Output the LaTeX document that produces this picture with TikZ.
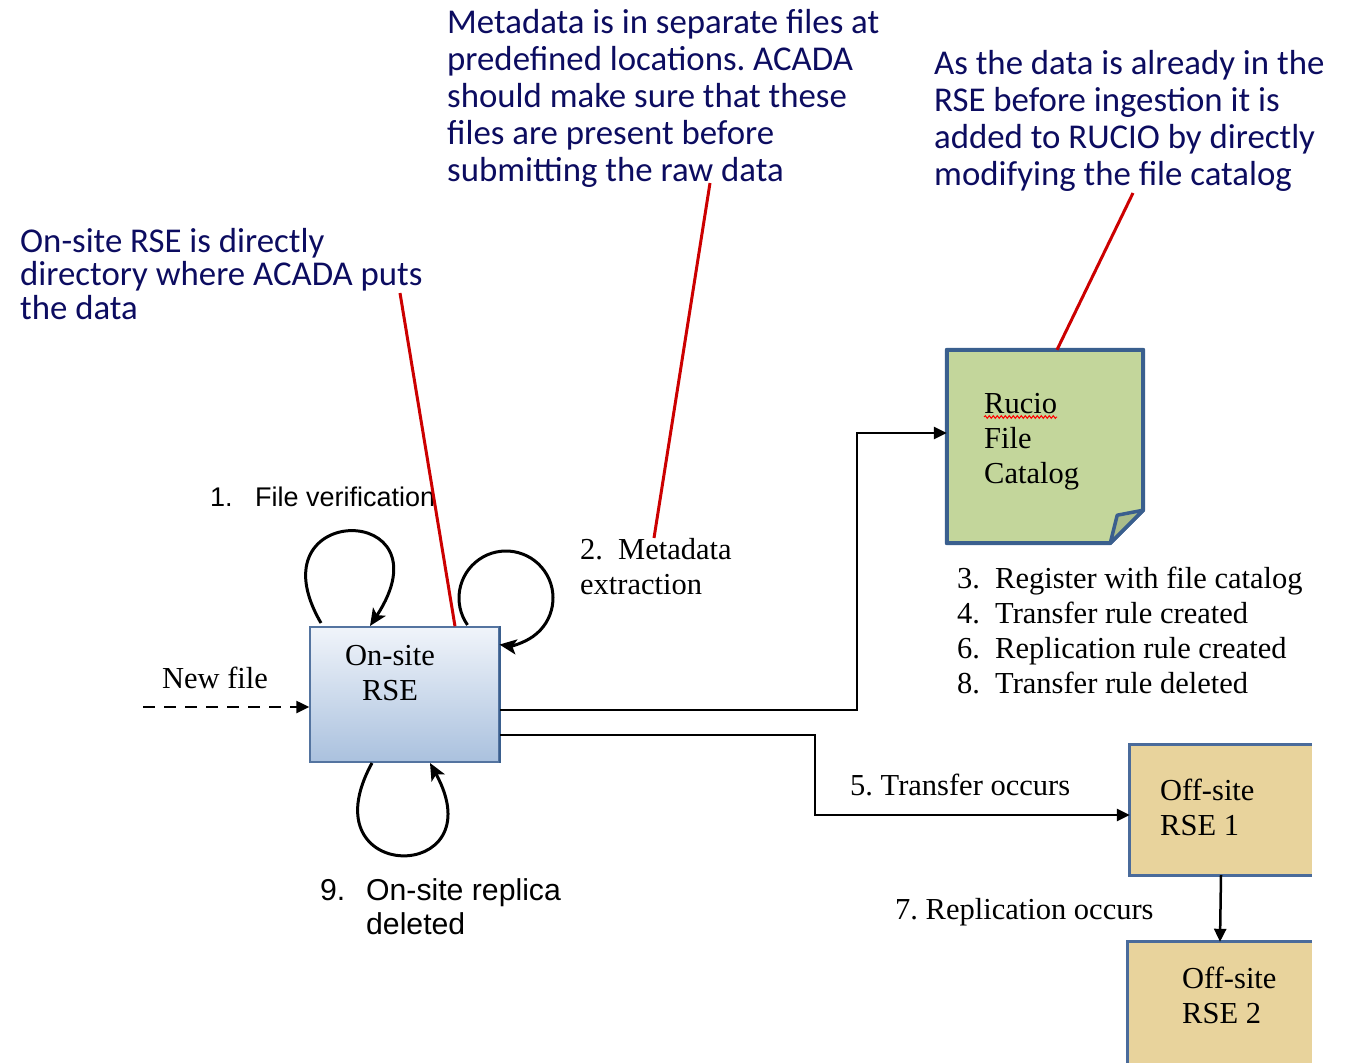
\documentclass[tikz,border=0pt]{standalone}
\usepackage{fontspec}
\setmainfont{Liberation Serif}
\newfontfamily\calfont{Carlito}
\newfontfamily\arialfont{Liberation Sans}
\usetikzlibrary{arrows.meta,decorations.pathmorphing,calc}
\frenchspacing
\definecolor{navy}{RGB}{12,12,96}
\definecolor{redline}{RGB}{204,0,0}
\definecolor{rseborder}{RGB}{84,116,160}
\definecolor{rsetop}{RGB}{240,244,250}
\definecolor{rsebot}{RGB}{170,193,222}
\definecolor{catfill}{RGB}{195,214,155}
\definecolor{catfold}{RGB}{170,189,138}
\definecolor{catborder}{RGB}{58,95,142}
\definecolor{offfill}{RGB}{232,211,156}
\definecolor{offborder}{RGB}{74,107,155}
\tikzset{
  note/.style={font=\calfont\fontsize{34.8}{37}\selectfont, text=navy, align=left, anchor=north west, inner sep=0pt},
  tnote/.style={font=\fontsize{30.5}{35}\selectfont, align=left, inner sep=0pt},
  anote/.style={font=\arialfont\fontsize{27}{34}\selectfont, align=left, inner sep=0pt},
  pointer/.style={draw=redline, line width=3pt},
  conn/.style={draw=black, line width=2.5pt, -{Triangle[length=13pt,width=12pt]}},
  loop/.style={draw=black, line width=3pt, -{Stealth[length=17pt,width=15pt,inset=4pt]}},
}
\begin{document}
\begin{tikzpicture}[x=1pt,y=-1pt]
\useasboundingbox (0,0) rectangle (1345,1063);

% ---- On-site RSE ----
\node (rse) [minimum width=189pt, minimum height=135pt, inner sep=0pt,
  top color=rsetop, bottom color=rsebot, draw=rseborder, line width=1.5pt] at (404.5,694.5) {};
\draw[catborder, line width=2pt] (rse.north east) -- (rse.south east);
\node (rsetxt) [tnote, align=center] at (390,673) {On-site\\RSE};

% ---- Rucio file catalog ----
\node (cat) [minimum width=196pt, minimum height=193pt, inner sep=0pt] at (1045,446.5) {};
\draw[fill=catfill, draw=catborder, line width=4pt, line join=round]
  (cat.north west) -- (cat.north east) -- ([yshift=33pt]cat.south east) -- ([xshift=-33pt]cat.south east) -- (cat.south west) -- cycle;
\draw[fill=catfold, draw=catborder, line width=3.5pt, line join=round]
  ([xshift=-33pt]cat.south east) -- ([xshift=-26pt,yshift=28pt]cat.south east) -- ([yshift=33pt]cat.south east) -- cycle;
\node (cattxt) [tnote, anchor=north west] at (984,393) {Rucio\\File\\Catalog};
\draw[red, line width=1pt, decorate, decoration={snake, amplitude=1.3pt, segment length=4pt}] (984,417) -- (1057,417);

% ---- Off-site RSEs ----
\node (off1) [minimum width=182pt, minimum height=130pt, inner sep=0pt] at (1221,810) {};
\fill[offfill] (off1.north west) rectangle (off1.south east);
\draw[offborder, line width=3pt] (off1.north east) -- (off1.north west) -- (off1.south west) -- (off1.south east);
\node (off1txt) [tnote, anchor=north west] at (1160,779) {Off-site\\RSE 1};

\node (off2) [minimum width=184pt, minimum height=121pt, inner sep=0pt] at (1220,1002.5) {};
\fill[offfill] (off2.north west) rectangle (off2.south east);
\draw[offborder, line width=3pt] (off2.north east) -- (off2.north west) -- (off2.south west);
\node (off2txt) [tnote, anchor=north west] at (1182,967) {Off-site\\RSE 2};

% ---- connectors ----
\coordinate (j1) at (857,433);
\coordinate (j2) at (815,815);
\draw[conn] ([yshift=-15.5pt]rse.east) -| (j1) -- (cat.west |- j1);
\draw[conn] ([yshift=-40.5pt]rse.east) -| (j2) -- (off1.west |- j2);
\draw[conn] (off1.south) -- (off2.north);
\coordinate (newstart) at (143,707);
\draw[conn, dash pattern=on 12pt off 9pt] (newstart) -- (rse.west |- newstart);

% ---- self loops ----
\coordinate (l1a) at (321,623);
\coordinate (l1b) at (370,626);
\draw[loop] (l1a) .. controls (250,501) and (452,501) .. (l1b);
\coordinate (l2a) at ($(506,598)+(145:47)$);
\draw[loop] (l2a) arc[start angle=145, end angle=458, radius=47];
\coordinate (l3a) at (372,763);
\coordinate (l3b) at (430,763);
\draw[loop] (l3a) .. controls (305,885) and (497,885) .. (l3b);

% ---- labels ----
\node (newfile) [tnote] at (215,678) {New file};
\node (step1) [anote, anchor=west] at (210,497) {\makebox[45pt][l]{1.}File verification};
\node (step2) [tnote, anchor=north west] at (580,538) {\makebox[38pt][l]{2.}Metadata\\extraction};
\node (steps) [tnote, anchor=north west] at (957,567) {\makebox[38pt][l]{3.}Register with file catalog\\\makebox[38pt][l]{4.}Transfer rule created\\\makebox[38pt][l]{6.}Replication rule created\\\makebox[38pt][l]{8.}Transfer rule deleted};
\node (step5) [tnote, anchor=west] at (850,785) {5. Transfer occurs};
\node (step7) [tnote, anchor=west] at (895,912) {7. Replication occurs};
\node (step9) [anote, font=\arialfont\fontsize{30.2}{34}\selectfont, anchor=north west] at (320,878) {\makebox[46pt][l]{9.}On-site replica\\\hspace*{46pt}deleted};

% ---- annotations ----
\node (noteA) [note, font=\calfont\fontsize{34.8}{33.5}\selectfont] at (20,228) {On-site RSE is directly\\directory where ACADA puts\\the data};
\node (noteB) [note] at (447,9) {Metadata is in separate files at\\predefined locations. ACADA\\should make sure that these\\files are present before\\submitting the raw data};
\node (noteC) [note] at (934,50) {As the data is already in the\\RSE before ingestion it is\\added to RUCIO by directly\\modifying the file catalog};

% ---- red pointers ----
\coordinate (pA) at (400,293);
\coordinate (pB) at (710,183);
\coordinate (pC) at (1133,193);
\draw[pointer] (pA) -- (rse.north -| 455,0);
\draw[pointer] (pB) -- (step2.north -| 654,0);
\draw[pointer] (pC) -- (cat.north -| 1057,0);
\end{tikzpicture}
\end{document}
